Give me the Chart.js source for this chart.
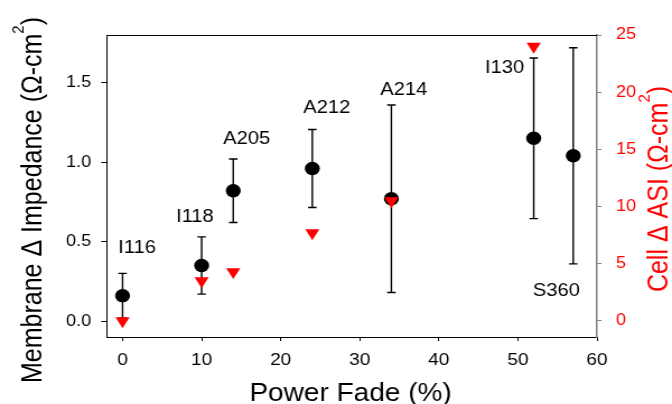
<!DOCTYPE html>
<html>
<head>
<meta charset="utf-8">
<script src="https://cdn.jsdelivr.net/npm/chart.js@4.4.1/dist/chart.umd.min.js"></script>
<style>
    html, body { margin: 0; padding: 0; background: #fff; }
</style>
</head>
<body>
<canvas id="grafica" width="600" height="404" style="display:block;width:672px;height:404px"></canvas>
<script>
"use strict";

// datos
const sampleNames = ["I116", "I118", "A205", "A212", "A214", "I130", "S360"];
const powerFade = [0, 10, 14, 24, 34, 52, 57];
const membraneImpedance = [0.16, 0.35, 0.82, 0.96, 0.77, 1.15, 1.04];
const impedanceError = [0.14, 0.18, 0.20, 0.245, 0.59, 0.505, 0.68];
const cellAsi = [0, 3.5, 4.3, 7.7, 10.5, 24, null];

const xTicks = [0, 10, 20, 30, 40, 50, 60];
const yTicks = [0, 0.5, 1.0, 1.5];
const y2Ticks = [0, 5, 10, 15, 20, 25];

// posicion de las etiquetas respecto al punto (px)
const labelOffsets = [[13, -48], [-6, -48], [12, -52], [13, -60], [11, -109], [-26, -70], [-15, 135]];

const FONT = "'Liberation Sans', Arial, sans-serif";

function drawPieces(ctx, pieces, cx, cy, angle, color) {
    ctx.save();
    ctx.translate(cx, cy);
    ctx.rotate(angle);
    ctx.fillStyle = color;
    ctx.textBaseline = "alphabetic";
    ctx.textAlign = "left";
    let total = 0;
    pieces.forEach((p) => {
        ctx.font = p.font;
        p.w = ctx.measureText(p.text).width;
        total += p.w;
    });
    let x = -total / 2;
    pieces.forEach((p) => {
        ctx.font = p.font;
        ctx.fillText(p.text, x, -(p.rise || 0));
        x += p.w;
    });
    ctx.restore();
}

const decoraciones = {
    id: "decoraciones",
    beforeDatasetsDraw(chart) {
        const { ctx, chartArea, scales } = chart;
        // linea superior del marco
        ctx.save();
        ctx.strokeStyle = "#000";
        ctx.lineWidth = 1;
        ctx.beginPath();
        ctx.moveTo(chartArea.left, chartArea.top + 0.5);
        ctx.lineTo(chartArea.right, chartArea.top + 0.5);
        ctx.stroke();

        // barras de error
        ctx.lineWidth = 1.4;
        powerFade.forEach((v, i) => {
            const x = scales.x.getPixelForValue(v);
            const yTop = scales.y.getPixelForValue(membraneImpedance[i] + impedanceError[i]);
            const yBot = scales.y.getPixelForValue(membraneImpedance[i] - impedanceError[i]);
            ctx.beginPath();
            ctx.moveTo(x, yTop);
            ctx.lineTo(x, yBot);
            ctx.moveTo(x - 3.8, yTop);
            ctx.lineTo(x + 3.8, yTop);
            ctx.moveTo(x - 3.8, yBot);
            ctx.lineTo(x + 3.8, yBot);
            ctx.stroke();
        });
        ctx.restore();
    },
    afterDatasetsDraw(chart) {
        const { ctx, scales } = chart;
        ctx.save();
        ctx.fillStyle = "#000";
        ctx.font = `18px ${FONT}`;
        ctx.textAlign = "center";
        ctx.textBaseline = "middle";
        sampleNames.forEach((name, i) => {
            const x = scales.x.getPixelForValue(powerFade[i]);
            const y = scales.y.getPixelForValue(membraneImpedance[i]);
            ctx.fillText(name, x + labelOffsets[i][0], y + labelOffsets[i][1]);
        });
        ctx.restore();
    },
    afterDraw(chart) {
        const { ctx } = chart;
        drawPieces(ctx, [{ text: "Power Fade (%)", font: `25px ${FONT}` }], 313, 400.5, 0, "#000");
        drawPieces(ctx, [
            { text: "Membrane \u0394 Impedance (\u03A9-cm", font: `25px ${FONT}` },
            { text: "2", font: `15px ${FONT}`, rise: 16 },
            { text: ")", font: `25px ${FONT}` },
        ], 37, 200, -Math.PI / 2, "#000");
        drawPieces(ctx, [
            { text: "Cell \u0394 ASI (\u03A9-cm", font: `25px ${FONT}` },
            { text: "2", font: `15px ${FONT}`, rise: 16 },
            { text: ")", font: `25px ${FONT}` },
        ], 596, 189, -Math.PI / 2, "#ff0000");
    },
};

const $grafica = document.querySelector("#grafica");

new Chart($grafica, {
    type: "scatter",
    data: {
        datasets: [
            {
                label: "Cell ASI",
                yAxisID: "y2",
                data: powerFade.map((x, i) => ({ x, y: cellAsi[i] })),
                pointStyle: "triangle",
                rotation: 180,
                pointRadius: 7.3,
                backgroundColor: "#ff0000",
                borderColor: "#ff0000",
                borderWidth: 0,
            },
            {
                label: "Membrane Impedance",
                yAxisID: "y",
                data: powerFade.map((x, i) => ({ x, y: membraneImpedance[i] })),
                pointStyle: "circle",
                pointRadius: 6.7,
                backgroundColor: "#000",
                borderColor: "#000",
                borderWidth: 0,
            },
        ],
    },
    options: {
        responsive: false,
        animation: false,
        events: [],
        layout: { padding: { top: 35, left: 0, right: 0, bottom: 0 } },
        plugins: {
            legend: { display: false },
            tooltip: { enabled: false },
        },
        scales: {
            x: {
                type: "linear",
                min: -2,
                max: 60,
                afterBuildTicks: (s) => { s.ticks = xTicks.map((v) => ({ value: v })); },
                afterFit: (s) => { s.height = 67; },
                border: { display: true, color: "#000", width: 1 },
                grid: { drawOnChartArea: false, tickLength: 4, color: "#000" },
                ticks: { color: "#000", padding: 9, font: { family: FONT, size: 17 } },
            },
            y: {
                type: "linear",
                position: "left",
                min: -0.1,
                max: 1.8,
                afterBuildTicks: (s) => { s.ticks = yTicks.map((v) => ({ value: v })); },
                afterFit: (s) => { s.width = 95.3; },
                border: { display: true, color: "#000", width: 1 },
                grid: { drawOnChartArea: false, tickLength: 5, color: "#000" },
                ticks: {
                    color: "#000",
                    padding: 9,
                    font: { family: FONT, size: 16 },
                    callback: (v) => Number(v).toFixed(1),
                },
            },
            y2: {
                type: "linear",
                position: "right",
                min: -1.4,
                max: 25,
                afterBuildTicks: (s) => { s.ticks = y2Ticks.map((v) => ({ value: v })); },
                afterFit: (s) => { s.width = 67; },
                border: { display: true, color: "#808080", width: 1.5 },
                grid: { drawOnChartArea: false, tickLength: 4, color: "#808080" },
                ticks: { color: "#ff0000", padding: 13, font: { family: FONT, size: 16 } },
            },
        },
    },
    plugins: [decoraciones],
});
</script>
</body>
</html>
